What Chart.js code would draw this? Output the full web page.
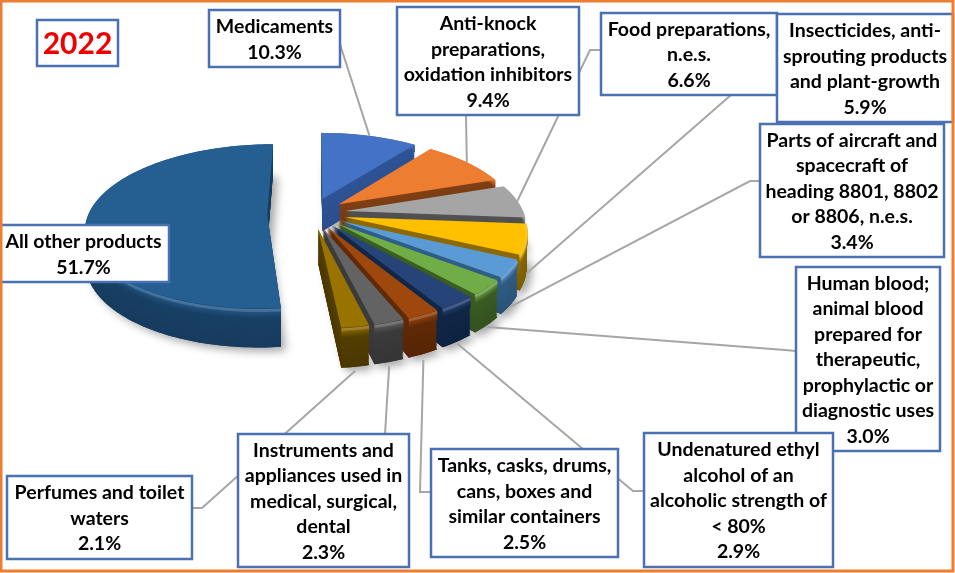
<!DOCTYPE html>
<html>
<head>
<meta charset="utf-8">
<title>2022</title>
<script src="https://cdn.jsdelivr.net/npm/chart.js@4"></script>
<style>
  html, body { margin: 0; padding: 0; background: #fff; }
  canvas { display: block; }
</style>
</head>
<body>
<canvas id="pie3d" width="955" height="573"></canvas>
<script>
const categories = [
  ['Medicaments'],
  ['Anti-knock', 'preparations,', 'oxidation inhibitors'],
  ['Food preparations,', 'n.e.s.'],
  ['Insecticides, anti-', 'sprouting products', 'and plant-growth'],
  ['Parts of aircraft and', 'spacecraft of', 'heading 8801, 8802', 'or 8806, n.e.s.'],
  ['Human blood;', 'animal blood', 'prepared for', 'therapeutic,', 'prophylactic or', 'diagnostic uses'],
  ['Undenatured ethyl', 'alcohol of an', 'alcoholic strength of', '< 80%'],
  ['Tanks, casks, drums,', 'cans, boxes and', 'similar containers'],
  ['Instruments and', 'appliances used in', 'medical, surgical,', 'dental'],
  ['Perfumes and toilet', 'waters'],
  ['All other products']
];
const shares = [10.3, 9.4, 6.6, 5.9, 3.4, 3.0, 2.9, 2.5, 2.3, 2.1, 51.7];
const yearLabel = '2022';

const faceColors = ['#4472C4', '#ED7D31', '#A5A5A5', '#FFC000', '#5B9BD5', '#70AD47', '#264478', '#9E480E', '#636363', '#997300', '#255E91'];
const wallColors = ['#2B4F8E', '#6E3510', '#444444', '#7A5C00', '#2A5478', '#33521F', '#0E2341', '#572606', '#363636', '#4A3800', '#173C5F'];
const explode = [48, 48, 48, 48, 48, 48, 48, 48, 48, 48, 64];

// box = x, y, w, h ; path = where the leader line goes to reach the box
const boxes = [
  [209, 10, 131, 57], [397, 7, 182, 108], [601, 13, 176, 82], [777, 14, 176, 108],
  [760, 124, 184, 133], [796, 267, 144, 184], [644, 433, 189, 134], [431, 449, 187, 108],
  [238, 434, 171, 133], [7, 476, 185, 83], [-2, 225, 171, 57]
];
const leaders = [
  { depth: 0, path: [[337, 35]] },
  { depth: 0, path: [[466, 115]] },
  { depth: 0, path: [[590, 50], [601, 50]] },
  { depth: 1.0, path: [[731, 95]] },
  { depth: 1.05, path: [[750, 181], [760, 181]] },
  { depth: 1.05, path: [[785, 350], [796, 351]] },
  { depth: 1.05, path: [[633, 491], [644, 491]] },
  { depth: 1.15, path: [[420, 492], [431, 492]] },
  { depth: 1.1, path: [[385, 434]] },
  { depth: 1.1, path: [[202, 508], [192, 508]] }
];

// perspective of the pie
const CX = 312, CY = 213, RX = 178, RY = 80, TILT = 0.15, DEPTH = 33;

function project(X, Y, t) {
  const w = 1 + TILT * Y;
  return [CX + RX * X / w, CY - RY * Y / w + t * DEPTH / w];
}

function sliceGeom(arc) {
  const off = arc.options.offset / arc.outerRadius;
  const mid = (arc.startAngle + arc.endAngle) / 2;
  const ox = Math.cos(mid) * off, oy = -Math.sin(mid) * off;
  const rim = [];
  const n = Math.max(6, Math.ceil((arc.endAngle - arc.startAngle) * 40));
  for (let i = 0; i <= n; i++) {
    const a = arc.startAngle + (arc.endAngle - arc.startAngle) * i / n;
    rim.push([ox + Math.cos(a), oy - Math.sin(a)]);
  }
  return { apex: [ox, oy], rim: rim, mid: [ox + Math.cos(mid), oy - Math.sin(mid)] };
}

function tracePath(ctx, g, t) {
  ctx.beginPath();
  const a = project(g.apex[0], g.apex[1], t);
  ctx.moveTo(a[0], a[1]);
  g.rim.forEach(function (p) {
    const q = project(p[0], p[1], t);
    ctx.lineTo(q[0], q[1]);
  });
  ctx.closePath();
}

function traceRim(ctx, g, t) {
  ctx.beginPath();
  g.rim.forEach(function (p, i) {
    const q = project(p[0], p[1], t);
    if (i === 0) ctx.moveTo(q[0], q[1]); else ctx.lineTo(q[0], q[1]);
  });
}

function mix(c1, c2, f) {
  const parse = function (c) { return [1, 3, 5].map(function (i) { return parseInt(c.substr(i, 2), 16); }); };
  const a = parse(c1), b = parse(c2);
  return 'rgb(' + a.map(function (v, i) { return Math.round(v + (b[i] - v) * f); }).join(',') + ')';
}

const pie3dPlugin = {
  id: 'pie3d',
  beforeDatasetsDraw(chart) {
    const ctx = chart.ctx;
    const arcs = chart.getDatasetMeta(0).data;
    const order = [10, 0, 1, 2, 3, 4, 5, 6, 7, 8, 9];

    ctx.save();
    ctx.shadowColor = 'rgba(0,0,0,0.35)';
    ctx.shadowBlur = 9;
    ctx.shadowOffsetX = 5;
    ctx.shadowOffsetY = 4;
    order.forEach(function (i) {
      tracePath(ctx, sliceGeom(arcs[i]), 1);
      ctx.fillStyle = wallColors[i];
      ctx.fill();
    });
    ctx.restore();

    order.forEach(function (i) {
      const g = sliceGeom(arcs[i]);
      for (let s = DEPTH; s > 0; s--) {
        const t = s / DEPTH;
        tracePath(ctx, g, t);
        ctx.fillStyle = mix(wallColors[i], faceColors[i], 0.15 * (1 - t));
        ctx.fill();
      }
      // bevel on the rim only, the radial walls stay dark
      ctx.save();
      ctx.lineWidth = 1.6;
      ctx.lineCap = 'butt';
      for (let s = 8; s >= 1; s--) {
        traceRim(ctx, g, s / DEPTH);
        ctx.strokeStyle = mix(faceColors[i], wallColors[i], s / 9);
        ctx.stroke();
      }
      ctx.restore();

      tracePath(ctx, g, 0);
      ctx.fillStyle = faceColors[i];
      ctx.fill();

      // soft highlight along the front rim
      ctx.save();
      ctx.beginPath();
      let started = false;
      g.rim.forEach(function (p) {
        if (p[1] > -0.1) return;
        const q = project(p[0], p[1], 0.05);
        if (started) ctx.lineTo(q[0], q[1]); else ctx.moveTo(q[0], q[1]);
        started = true;
      });
      ctx.strokeStyle = 'rgba(255,255,255,0.16)';
      ctx.lineWidth = 3;
      ctx.stroke();
      ctx.restore();
    });
    return false;
  },
  afterDraw(chart) {
    const ctx = chart.ctx;
    const arcs = chart.getDatasetMeta(0).data;

    // leader lines
    ctx.save();
    ctx.strokeStyle = '#A6A6A6';
    ctx.lineWidth = 2;
    leaders.forEach(function (l, i) {
      const g = sliceGeom(arcs[i]);
      const s = project(g.mid[0], g.mid[1], l.depth);
      ctx.beginPath();
      ctx.moveTo(s[0], s[1]);
      l.path.forEach(function (p) { ctx.lineTo(p[0], p[1]); });
      ctx.stroke();
    });
    ctx.restore();

    // label boxes
    ctx.textAlign = 'center';
    ctx.textBaseline = 'middle';
    ctx.font = 'bold 19.5px Lato';
    boxes.forEach(function (b, i) {
      ctx.fillStyle = '#fff';
      ctx.fillRect(b[0], b[1], b[2], b[3]);
      ctx.strokeStyle = '#4A72B2';
      ctx.lineWidth = 2.5;
      ctx.strokeRect(b[0], b[1], b[2], b[3]);
      const lines = categories[i].concat([shares[i].toFixed(1) + '%']);
      const lh = 25.5;
      const top = b[1] + b[3] / 2 - lh * (lines.length - 1) / 2 + 1;
      ctx.fillStyle = '#000';
      lines.forEach(function (txt, k) {
        ctx.fillText(txt, b[0] + b[2] / 2, top + k * lh);
      });
    });

    // year box
    ctx.fillStyle = '#fff';
    ctx.fillRect(37, 20, 81, 46);
    ctx.strokeStyle = '#4A72B2';
    ctx.strokeRect(37, 20, 81, 46);
    ctx.fillStyle = '#F00000';
    ctx.font = 'bold 30px Lato';
    ctx.fillText(yearLabel, 77.5, 44);

    // outer frame
    ctx.strokeStyle = '#ED7D31';
    ctx.lineWidth = 3;
    ctx.strokeRect(1, 1, 952, 570);
  }
};

new Chart(document.getElementById('pie3d'), {
  type: 'pie',
  data: {
    labels: categories.map(function (c) { return c.join(' '); }),
    datasets: [{
      data: shares,
      backgroundColor: faceColors,
      borderWidth: 0,
      offset: explode
    }]
  },
  options: {
    responsive: false,
    animation: false,
    plugins: {
      legend: { display: false },
      tooltip: { enabled: false }
    }
  },
  plugins: [pie3dPlugin]
});
</script>
</body>
</html>
